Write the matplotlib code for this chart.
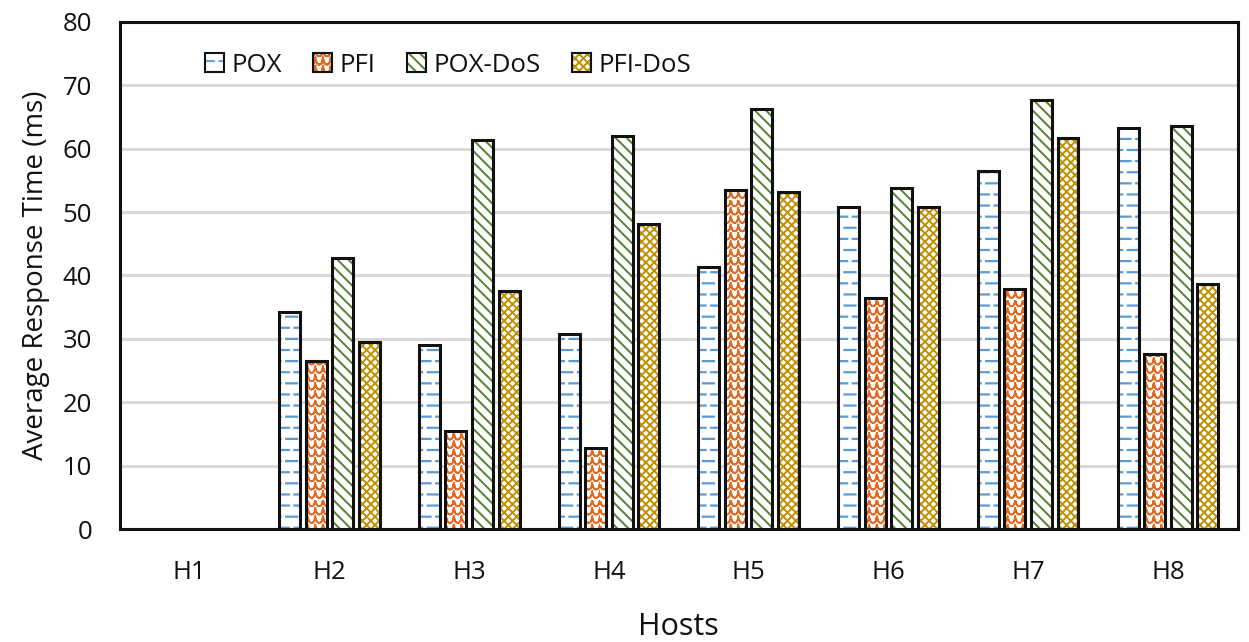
import matplotlib
matplotlib.use("Agg")
import matplotlib.pyplot as plt
import matplotlib.hatch as mhatch
from matplotlib.path import Path
from matplotlib.patches import Patch
import numpy as np

hosts = ["H1", "H2", "H3", "H4", "H5", "H6", "H7", "H8"]
series_names = ["POX", "PFI", "POX-DoS", "PFI-DoS"]
pox = [0, 34.3, 29.1, 30.8, 41.3, 50.8, 56.5, 63.2]
pfi = [0, 26.5, 15.5, 12.7, 53.5, 36.5, 37.8, 27.6]
pox_dos = [0, 42.7, 61.3, 62.0, 66.2, 53.8, 67.6, 63.6]
pfi_dos = [0, 29.5, 37.6, 48.1, 53.2, 50.8, 61.6, 38.6]
y_ticks = [0, 10, 20, 30, 40, 50, 60, 70, 80]


# --- custom hatch styles: staggered short dashes ('-') and scallops ('o') ---
class StaggeredDashHatch(mhatch.HatchPatternBase):
    ROWS, COLS = 9, 6

    def __init__(self, hatch, density):
        self.on = '-' in hatch
        self.num_vertices = self.ROWS * (self.COLS + 1) * 2 if self.on else 0

    def set_vertices_and_codes(self, vertices, codes):
        i = 0
        dx = 1.0 / self.COLS
        for r in range(self.ROWS):
            y = (r + 0.5) / self.ROWS
            off = 0.0 if r % 2 == 0 else dx / 2
            for c in range(self.COLS + 1):
                x0 = c * dx + off - dx * 0.33
                vertices[i] = (x0, y)
                vertices[i + 1] = (x0 + dx * 0.66, y)
                codes[i] = Path.MOVETO
                codes[i + 1] = Path.LINETO
                i += 2


class ScallopHatch(mhatch.HatchPatternBase):
    ROWS, COLS, NP = 12, 13, 7

    def __init__(self, hatch, density):
        self.on = 'o' in hatch
        # each arc traced forward and back so that it encloses no area
        self.num_vertices = self.ROWS * self.COLS * (2 * self.NP - 1) if self.on else 0

    def set_vertices_and_codes(self, vertices, codes):
        i = 0
        w = 1.0 / self.COLS
        h = 1.0 / self.ROWS
        t = np.linspace(np.pi, 2 * np.pi, self.NP)
        tt = np.concatenate([t, t[-2::-1]])
        for r in range(self.ROWS):
            yc = (r + 0.75) * h
            for c in range(self.COLS):
                xc = (c + 0.5) * w
                for k, a in enumerate(tt):
                    vertices[i] = (xc + 0.42 * w * np.cos(a), yc + 0.5 * h * np.sin(a))
                    codes[i] = Path.MOVETO if k == 0 else Path.LINETO
                    i += 1


mhatch._hatch_types = [t for t in mhatch._hatch_types
                       if t not in (mhatch.HorizontalHatch, mhatch.SmallCircles, mhatch.LargeCircles)]
mhatch._hatch_types += [StaggeredDashHatch, ScallopHatch]

plt.rcParams['font.family'] = ['Open Sans', 'DejaVu Sans']
plt.rcParams['hatch.linewidth'] = 1.4

colors = ["#5B9BD5", "#E2691F", "#548235", "#C09000"]
hatches = ["-", "o", "\\\\\\", "xxxx"]
hatch_lw = [1.6, 1.2, 1.4, 1.4]
data = [pox, pfi, pox_dos, pfi_dos]

fig = plt.figure(figsize=(12.49, 6.42), dpi=100)
ax = fig.add_axes([0.096, 0.176, 0.895, 0.790])


def set_hlw(artist, lw):
    if hasattr(artist, "set_hatch_linewidth"):
        artist.set_hatch_linewidth(lw)


x = np.arange(len(hosts))
width = 0.15
pitch = 0.19
handles = []
for i, (vals, c, h, hl, name) in enumerate(zip(data, colors, hatches, hatch_lw, series_names)):
    pos = x + (i - 1.5) * pitch
    vv = np.array(vals)
    mask = vv > 0
    bars = ax.bar(pos[mask], vv[mask], width, facecolor="white", edgecolor=c, hatch=h, linewidth=0, zorder=3)
    for b in bars:
        set_hlw(b, hl)
    p1 = Patch(facecolor="white", edgecolor=c, hatch=h, linewidth=0)
    set_hlw(p1, hl)
    ax.bar(pos[mask], vv[mask], width, fill=False, edgecolor="#111111", linewidth=2.2, zorder=4)
    p2 = Patch(fill=False, edgecolor="#111111", linewidth=1.5)
    handles.append((p1, p2))

ax.set_xlim(-0.5, 7.5)
ax.set_ylim(0, 80)
ax.set_yticks(y_ticks)
ax.set_xticks(x)
ax.set_xticklabels(hosts)
ax.tick_params(axis='both', length=0, labelsize=18.5, colors="#111111")
ax.tick_params(axis='x', pad=22)
ax.tick_params(axis='y', pad=20)
ax.yaxis.grid(True, color="#D9D9D9", linewidth=2.2, zorder=0)
ax.set_axisbelow(True)
for s in ax.spines.values():
    s.set_linewidth(2.2)
    s.set_color("#111111")

ax.set_ylabel("Average Response Time (ms)", fontsize=20, labelpad=9, color="#111111")
ax.set_xlabel("Hosts", fontsize=22, labelpad=20, color="#111111")

ax.legend(handles, series_names, loc="upper left", bbox_to_anchor=(0.055, 0.985), ncol=4,
          frameon=False, fontsize=18.5, handlelength=0.75, handleheight=0.75,
          handletextpad=0.3, columnspacing=1.2, labelcolor="#111111")

fig.savefig("out.png", dpi=100)
